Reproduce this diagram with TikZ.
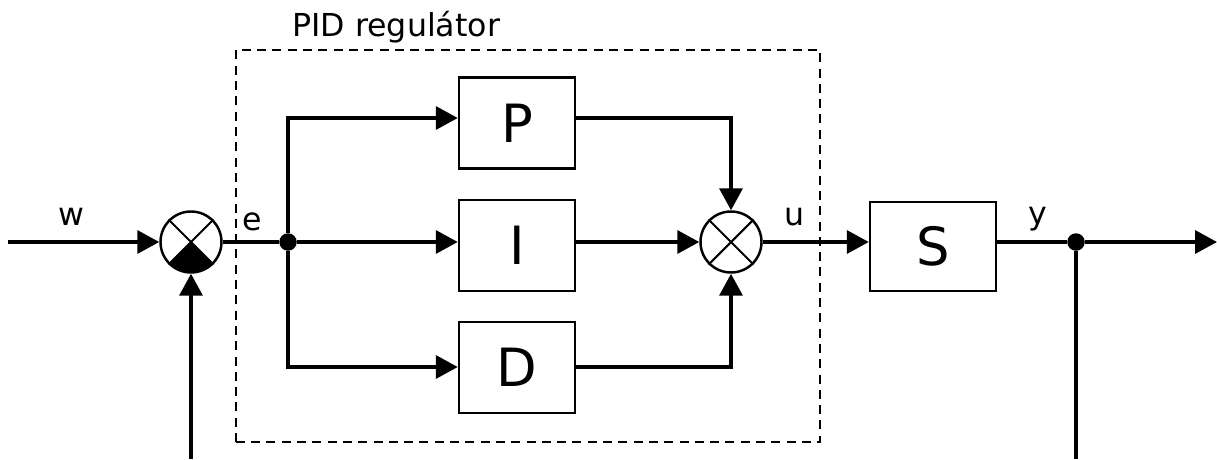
\documentclass[tikz,border=0pt]{standalone}
\usepackage{fontspec}
\setmainfont{DejaVu Sans}
\usetikzlibrary{arrows.meta}

\begin{document}
\begin{tikzpicture}[x=0.2mm, y=0.2mm,
    block/.style={draw, line width=1.4pt, inner sep=0pt, font=\fontsize{30}{36}\selectfont},
    sum/.style={draw, circle, line width=1.4pt, minimum size=12.2mm, inner sep=0pt},
    dot/.style={circle, fill, minimum size=3.5mm, inner sep=0pt},
    lbl/.style={anchor=base, inner sep=0pt, font=\fontsize{18}{22}\selectfont},
    wire/.style={line width=2pt},
    sig/.style={line width=2pt, -{Triangle[length=4.4mm, width=4.6mm]}}]
    \useasboundingbox (0,0) rectangle (1217,459);

    % regulator frame
    \draw[line width=1.6pt, dash pattern=on 1.8mm off 1.26mm] (236,17) rectangle (820,409);
    \node[lbl, anchor=base west] (title) at (292,423) {PID regulátor};

    % nodes
    \node[sum] (sumL) at (191,217) {};
    \node[dot] (br) at (288,217) {};
    \node[block, minimum width=23.2mm, minimum height=18.2mm] (P) at (517,336) {P};
    \node[block, minimum width=23.2mm, minimum height=18.2mm] (I) at (517,213.5) {I};
    \node[block, minimum width=23.2mm, minimum height=18.2mm] (D) at (517,91.5) {D};
    \node[sum] (sumR) at (731,217) {};
    \node[block, minimum width=25.2mm, minimum height=17.8mm] (S) at (933,212.5) {S};
    \node[dot] (ydot) at (1076,217) {};

    \coordinate (in) at (8,217);
    \coordinate (fbL) at (191,0);
    \coordinate (fbR) at (1076,0);
    \coordinate (out) at (1217,217);
    \coordinate (lvP) at (0,341);
    \coordinate (lvD) at (0,92);

    % sum symbols
    \fill (sumL.center) -- ++(225:6.1mm) arc[start angle=225, end angle=315, radius=6.1mm] -- cycle;
    \draw[line width=1.2pt] (sumL.45) -- (sumL.225) (sumL.135) -- (sumL.315);
    \draw[line width=1.2pt] (sumR.45) -- (sumR.225) (sumR.135) -- (sumR.315);

    % connectors
    \draw[sig] (in) -- (sumL);
    \draw[sig] (fbL) -- (sumL);
    \draw[wire] (sumL) -- (br);
    \draw[sig] (br) |- (P.west |- lvP);
    \draw[sig] (br) -- (I.west |- br);
    \draw[sig] (br) |- (D.west |- lvD);
    \draw[sig] (P.east |- lvP) -| (sumR);
    \draw[sig] (I.east |- sumR) -- (sumR);
    \draw[sig] (D.east |- lvD) -| (sumR);
    \draw[sig] (sumR) -- (S.west |- sumR);
    \draw[wire] (S.east |- sumR) -- (ydot);
    \draw[sig] (ydot) -- (out);
    \draw[wire] (ydot) -- (fbR);

    % signal labels
    \node[lbl] (w) at (71,234) {w};
    \node[lbl] (e) at (252,229) {e};
    \node[lbl] (u) at (795,233.5) {u};
    \node[lbl] (y) at (1038,235) {y};
\end{tikzpicture}
\end{document}
